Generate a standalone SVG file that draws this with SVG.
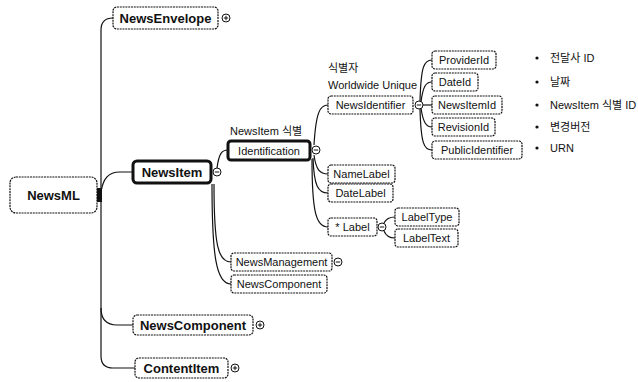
<svg xmlns="http://www.w3.org/2000/svg" width="638" height="382" viewBox="0 0 638 382">
<style>
  .box { fill: #fff; stroke: #111; stroke-width: 1.2; stroke-dasharray: 2 0.8; }
  .thick { fill: #fff; stroke: #111; stroke-width: 3; }
  .t { font-family: "Liberation Sans", "Noto Sans CJK KR", sans-serif; font-size: 11px; fill: #111; }
  .tb { font-family: "Liberation Sans", "Noto Sans CJK KR", sans-serif; font-weight: bold; font-size: 13px; fill: #111; }
  .k { font-family: "Liberation Sans", "Noto Sans CJK KR", sans-serif; font-size: 11px; fill: #111; }
  .c { fill: none; stroke: #111; stroke-width: 1.2; }
  .ic { fill: #fff; stroke: #111; stroke-width: 1; }
  .sg { stroke: #111; stroke-width: 1; }
</style>
<defs>
  <g id="minus"><circle class="ic" r="4"/><line class="sg" x1="-2.2" y1="0" x2="2.2" y2="0"/></g>
  <g id="plus"><circle class="ic" r="4"/><line class="sg" x1="-2.2" y1="0" x2="2.2" y2="0"/><line class="sg" x1="0" y1="-2.2" x2="0" y2="2.2"/></g>
</defs>

<g id="connectors">
  <path class="c" d="M101,195 V30 Q101,18 113,18"/>
  <path class="c" d="M101,195 V356 Q101,368 113,368 H135"/>
  <path class="c" d="M101,308 Q101,325 117,325 H133"/>
  <path class="c" d="M101,192 C103,179 108,172 120,172 H133"/>
  <path class="c" d="M217,168 C219,153 222,150 228,150"/>
  <path class="c" d="M214,184 C214,245 218,262 231,262"/>
  <path class="c" d="M212,184 C212,255 216,284 231,284"/>
  <path class="c" d="M314,145 C316,112 320,105 328,105"/>
  <path class="c" d="M314,155 C316,170 320,174 328,174"/>
  <path class="c" d="M313,158 C314,186 318,193 328,193"/>
  <path class="c" d="M312,159 C312,212 316,227 328,227"/>
  <path class="c" d="M420,101 C421,66 424,60 432,60"/>
  <path class="c" d="M421,102 C423,86 426,82 432,82"/>
  <path class="c" d="M423,105 H432"/>
  <path class="c" d="M421,108 C423,122 426,127 432,127"/>
  <path class="c" d="M420,109 C421,144 424,150 432,150"/>
  <path class="c" d="M384,223 C386,219 389,217 395,217"/>
  <path class="c" d="M384,231 C386,236 389,238 395,238"/>
</g>

<g id="NewsML">
  <rect class="box" x="10" y="177" width="87" height="36" rx="6"/>
  <rect x="97" y="188" width="5" height="14" fill="#111"/>
  <text class="tb" x="53.5" y="200" text-anchor="middle" font-size="14">NewsML</text>
</g>
<g id="NewsEnvelope">
  <rect class="box" x="113" y="7" width="105" height="22" rx="4"/>
  <text class="tb" x="165.5" y="22.5" text-anchor="middle" font-size="12.5">NewsEnvelope</text>
  <use href="#plus" x="226" y="18"/>
</g>
<g id="NewsItem">
  <rect class="thick" x="133" y="161" width="78" height="22" rx="4"/>
  <text class="tb" x="172" y="176.5" text-anchor="middle">NewsItem</text>
  <use href="#minus" x="217" y="172"/>
</g>
<g id="NewsComponent">
  <rect class="box" x="133" y="315" width="120" height="20" rx="4"/>
  <text class="tb" x="193" y="329.5" text-anchor="middle">NewsComponent</text>
  <use href="#plus" x="260" y="325"/>
</g>
<g id="ContentItem">
  <rect class="box" x="135" y="358" width="93" height="20" rx="4"/>
  <text class="tb" x="181.5" y="372.5" text-anchor="middle">ContentItem</text>
  <use href="#plus" x="235" y="368"/>
</g>

<g id="Identification">
  <text class="k" x="230" y="135">NewsItem 식별</text>
  <rect class="thick" x="228" y="141" width="82" height="19" rx="3" stroke-width="2.5"/>
  <text class="t" x="269" y="154.5" text-anchor="middle">Identification</text>
  <use href="#minus" x="316" y="150"/>
</g>
<g id="NewsManagement">
  <rect class="box" x="231" y="253" width="101" height="18" rx="3"/>
  <text class="t" x="281.5" y="266" text-anchor="middle" font-size="10.5">NewsManagement</text>
  <use href="#minus" x="338" y="262"/>
</g>
<g id="NewsComponentSub">
  <rect class="box" x="231" y="275" width="96" height="18" rx="3"/>
  <text class="t" x="279" y="288" text-anchor="middle" font-size="10.5">NewsComponent</text>
</g>

<g id="NewsIdentifier">
  <text class="k" x="328" y="72">식별자</text>
  <text class="k" x="328" y="89">Worldwide Unique</text>
  <rect class="box" x="328" y="96" width="85" height="18" rx="3"/>
  <text class="t" x="370.5" y="109" text-anchor="middle">NewsIdentifier</text>
  <use href="#minus" x="419" y="105"/>
</g>
<g id="NameLabel">
  <rect class="box" x="328" y="165" width="67" height="18" rx="3"/>
  <text class="t" x="361.5" y="178" text-anchor="middle">NameLabel</text>
</g>
<g id="DateLabel">
  <rect class="box" x="328" y="184" width="65" height="18" rx="3"/>
  <text class="t" x="360.5" y="197" text-anchor="middle">DateLabel</text>
</g>
<g id="Label">
  <rect class="box" x="328" y="218" width="49" height="18" rx="3"/>
  <text class="t" x="352.5" y="231" text-anchor="middle">* Label</text>
  <use href="#minus" x="382" y="227"/>
</g>
<g id="LabelType">
  <rect class="box" x="395" y="208" width="64" height="18" rx="3"/>
  <text class="t" x="427" y="221" text-anchor="middle">LabelType</text>
</g>
<g id="LabelText">
  <rect class="box" x="395" y="229" width="63" height="18" rx="3"/>
  <text class="t" x="426.5" y="242" text-anchor="middle">LabelText</text>
</g>

<g id="ProviderId">
  <rect class="box" x="432" y="51" width="64" height="18" rx="3"/>
  <text class="t" x="464" y="64" text-anchor="middle">ProviderId</text>
</g>
<g id="DateId">
  <rect class="box" x="432" y="73" width="46" height="18" rx="3"/>
  <text class="t" x="455" y="86" text-anchor="middle">DateId</text>
</g>
<g id="NewsItemId">
  <rect class="box" x="432" y="96" width="70" height="18" rx="3"/>
  <text class="t" x="467" y="109" text-anchor="middle">NewsItemId</text>
</g>
<g id="RevisionId">
  <rect class="box" x="432" y="118" width="63" height="18" rx="3"/>
  <text class="t" x="463.5" y="131" text-anchor="middle">RevisionId</text>
</g>
<g id="PublicIdentifier">
  <rect class="box" x="432" y="141" width="90" height="18" rx="3"/>
  <text class="t" x="477" y="154" text-anchor="middle">PublicIdentifier</text>
</g>

<g id="notes">
  <circle cx="537" cy="58" r="1.6" fill="#111"/>
  <text class="k" x="550" y="62">전달사 ID</text>
  <circle cx="537" cy="82" r="1.6" fill="#111"/>
  <text class="k" x="550" y="86">날짜</text>
  <circle cx="537" cy="105" r="1.6" fill="#111"/>
  <text class="k" x="550" y="109">NewsItem 식별 ID</text>
  <circle cx="537" cy="127" r="1.6" fill="#111"/>
  <text class="k" x="550" y="131">변경버전</text>
  <circle cx="537" cy="148" r="1.6" fill="#111"/>
  <text class="k" x="550" y="152">URN</text>
</g>
</svg>
